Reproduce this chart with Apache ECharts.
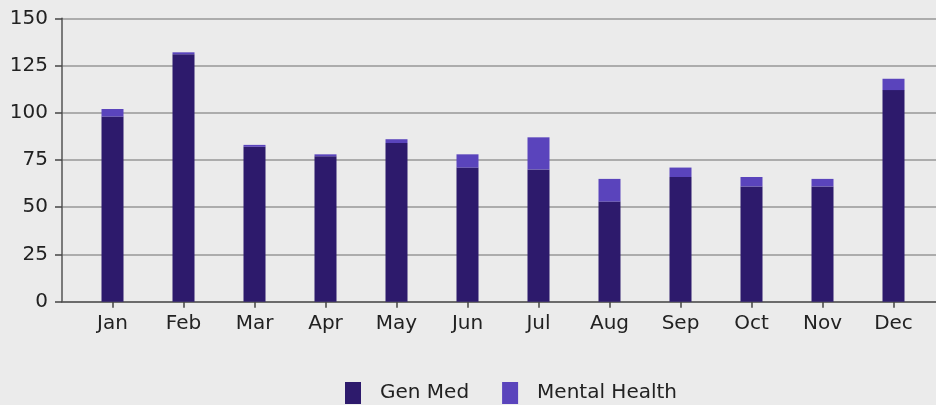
<!DOCTYPE html>
<html>
<head>
<meta charset="utf-8">
<script src="https://cdn.jsdelivr.net/npm/echarts@6/dist/echarts.min.js"></script>
<style>
html,body{margin:0;padding:0;background:#ebebeb;}
#c{width:936px;height:405px;}
</style>
</head>
<body>
<div id="c"></div>
<script>
const categories = ['Jan','Feb','Mar','Apr','May','Jun','Jul','Aug','Sep','Oct','Nov','Dec'];
const genMed = [98,131,82,77,84,71,70,53,66,61,61,112];
const mentalHealth = [4,1,1,1,2,7,17,12,5,5,4,6];
const yTicks = [0,25,50,75,100,125,150];

const chart = echarts.init(document.getElementById('c'));
const font = 'DejaVu Sans';
chart.setOption({
  backgroundColor: '#ebebeb',
  animation: false,
  textStyle: {fontFamily: font},
  grid: [
    {left: 62, right: 0, top: 18.3, bottom: 103.3},
    {left: 77, width: 852, top: 18.3, bottom: 103.3}
  ],
  xAxis: [
    {gridIndex: 0, type: 'value', min: 0, max: 1,
     axisLine: {show: true, onZero: false, lineStyle: {color: '#555', width: 1.5}},
     axisTick: {show: false}, axisLabel: {show: false}, splitLine: {show: false}},
    {gridIndex: 1, type: 'category', data: categories, boundaryGap: true,
     axisLine: {show: false},
     axisTick: {show: true, alignWithLabel: true, length: 6, lineStyle: {color: '#444', width: 1.5}},
     axisLabel: {fontSize: 20, color: '#222', margin: 12, fontFamily: font}}
  ],
  yAxis: [
    {gridIndex: 0, type: 'value', min: 0, max: 150, interval: 25,
     axisLine: {show: true, lineStyle: {color: '#555', width: 1.5}},
     axisTick: {show: true, length: 7, lineStyle: {color: '#444', width: 1.5}},
     axisLabel: {fontSize: 20, color: '#222', margin: 14, fontFamily: font,
       formatter: v => yTicks.includes(v) ? String(v) : ''},
     splitLine: {show: true, lineStyle: {color: '#acacac', width: 2}}},
    {gridIndex: 1, type: 'value', min: 0, max: 150, interval: 25, show: false,
     splitLine: {show: false}}
  ],
  legend: {
    data: ['Gen Med', 'Mental Health'],
    left: 340, top: 377,
    icon: 'rect', itemWidth: 16, itemHeight: 22, itemGap: 33,
    textStyle: {fontSize: 20, color: '#222', fontFamily: font, padding: [0,0,0,14]}
  },
  series: [
    {name: 'Gen Med', type: 'bar', stack: 's', xAxisIndex: 1, yAxisIndex: 1,
     data: genMed, barWidth: 22, itemStyle: {color: '#2d1a6c'}},
    {name: 'Mental Health', type: 'bar', stack: 's', xAxisIndex: 1, yAxisIndex: 1,
     data: mentalHealth, barWidth: 22, itemStyle: {color: '#5a44bc'}}
  ]
});
</script>
</body>
</html>
